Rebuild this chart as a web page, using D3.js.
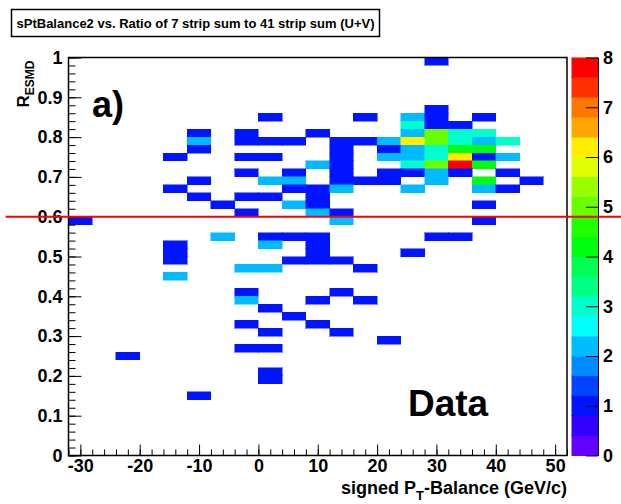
<!DOCTYPE html>
<html>
<head>
<meta charset="utf-8">
<script src="https://d3js.org/d3.v7.min.js"></script>
<style>
body { margin: 0; background: #fff; }
svg text { font-family: "Liberation Sans", Arial, Helvetica, sans-serif; font-weight: bold; }
</style>
</head>
<body>
<div id="chart"></div>
<script>
// Histogram rows: lower edge of the R bin, then lower edges of the filled
// pT-balance bins in that row and their counts
var rowY = [0.98, 0.86, 0.84, 0.82, 0.80, 0.78, 0.76, 0.74, 0.72, 0.70,
            0.68, 0.66, 0.64, 0.62, 0.60, 0.58, 0.54, 0.52, 0.50, 0.48,
            0.46, 0.44, 0.40, 0.38, 0.36, 0.34, 0.32, 0.30, 0.28, 0.26,
            0.24, 0.20, 0.18, 0.14];
var rowX = [
    [28],
    [28],
    [0, 16, 24, 28, 36],
    [24, 28, 32],
    [-12, -4, 8, 24, 28, 32, 36],
    [-12, -4, 0, 4, 12, 16, 20, 24, 28, 32, 36, 40],
    [-12, 12, 20, 24, 28, 32, 36],
    [-16, -4, 0, 12, 20, 24, 28, 32, 36, 40],
    [8, 12, 24, 28, 32, 36],
    [-4, 4, 12, 20, 24, 28, 32, 40],
    [-12, 0, 4, 12, 16, 20, 28, 36, 44],
    [-16, 4, 8, 12, 24, 36, 40],
    [-12, -4, 0, 8],
    [-8, 4, 8, 36],
    [-4, 8, 12],
    [-32, 12, 36],
    [-8, 0, 4, 8, 28, 32],
    [-16, 0, 8],
    [-16, 8, 24],
    [-16, 4, 8, 12],
    [-4, 0, 16],
    [-16],
    [-4, 12],
    [-4, 8, 16],
    [0],
    [4],
    [-4, 8],
    [0, 12],
    [20],
    [-4, 0],
    [-24],
    [0],
    [0],
    [-12]
];
var rowN = [
    [1],
    [1],
    [1, 1, 2, 1, 1],
    [3, 1, 1],
    [1, 1, 1, 2, 5, 3, 3],
    [2, 1, 1, 1, 1, 1, 2, 6, 5, 3, 2, 3],
    [1, 1, 1, 2, 3, 4, 4],
    [1, 1, 1, 1, 2, 2, 3, 6, 1, 2],
    [2, 1, 3, 5, 8, 4],
    [1, 1, 1, 1, 1, 2, 1, 1],
    [1, 2, 2, 1, 1, 1, 2, 4, 1],
    [1, 1, 1, 2, 2, 2, 1],
    [1, 1, 1, 1],
    [1, 2, 1, 1],
    [1, 2, 1],
    [1, 2, 1],
    [2, 1, 1, 1, 1, 1],
    [1, 2, 1],
    [1, 1, 1],
    [1, 1, 1, 1],
    [2, 2, 1],
    [2],
    [1, 1],
    [2, 1, 1],
    [1],
    [1],
    [1, 1],
    [1, 1],
    [1],
    [1, 1],
    [1],
    [1],
    [1],
    [1]
];

var binW = 4, binH = 0.02;
var xTicks = [-30, -20, -10, 0, 10, 20, 30, 40, 50];
var yTicks = [0, 0.1, 0.2, 0.3, 0.4, 0.5, 0.6, 0.7, 0.8, 0.9, 1];
var zTicks = [0, 1, 2, 3, 4, 5, 6, 7, 8];
var cutValue = 0.6;
var cutLineX = [-42.6, 61.5];

// frame in pixels
var frame = {left: 68.5, right: 567, top: 57.5, bottom: 455.5};

var x = d3.scaleLinear().domain([-32, 52]).range([frame.left, frame.right]);
var y = d3.scaleLinear().domain([0, 1]).range([frame.bottom, frame.top]);
var z = d3.scaleLinear().domain([0, 8]).range([frame.bottom, frame.top]);

// ROOT rainbow palette (50 colours), 20 contour levels
function levelColor(k) {
    var idx = Math.floor((k + 0.99) * 2.5);
    return d3.hsl(280 - (idx + 1) * 5.6, 1, 0.5).toString();
}
function cellColor(n) {
    var k = Math.floor(0.01 + n * 2.5);
    if (k > 19) k = 19;
    return levelColor(k);
}

var svg = d3.select("#chart").append("svg")
    .attr("width", 621)
    .attr("height", 504);

// flatten the rows into cells
var cells = [];
rowY.forEach(function(ry, i) {
    rowX[i].forEach(function(rx, j) {
        cells.push({x: rx, y: ry, n: rowN[i][j]});
    });
});

svg.append("g")
    .attr("shape-rendering", "crispEdges")
    .selectAll("rect")
    .data(cells)
    .enter().append("rect")
    .attr("x", function(d) { return x(d.x); })
    .attr("width", function(d) { return x(d.x + binW) - x(d.x); })
    .attr("y", function(d) { return y(d.y + binH); })
    .attr("height", function(d) { return y(d.y) - y(d.y + binH); })
    .attr("fill", function(d) { return cellColor(d.n); })
    .attr("stroke", function(d) { return cellColor(d.n); })
    .attr("stroke-width", 0.5);

// frame
svg.append("rect")
    .attr("x", frame.left)
    .attr("y", frame.top)
    .attr("width", frame.right - frame.left)
    .attr("height", frame.bottom - frame.top)
    .attr("fill", "none")
    .attr("stroke", "black")
    .attr("stroke-width", 1.5);

// X axis (minor + major ticks, pointing inwards)
svg.append("g")
    .attr("transform", "translate(0," + frame.bottom + ")")
    .call(d3.axisBottom(x).tickValues(d3.range(-32, 53, 2)).tickSize(-6).tickFormat(""))
    .call(function(g) { g.select(".domain").remove(); });
svg.append("g")
    .attr("transform", "translate(0," + frame.bottom + ")")
    .call(d3.axisBottom(x).tickValues(xTicks).tickSize(-11).tickPadding(4)
        .tickFormat(function(d) { return String(d); }))
    .call(function(g) { g.select(".domain").remove(); })
    .attr("font-size", 18);

// Y axis
svg.append("g")
    .attr("transform", "translate(" + frame.left + ",0)")
    .call(d3.axisLeft(y).tickValues(d3.range(0, 51).map(function(i) { return i * 0.02; }))
        .tickSize(-7).tickFormat(""))
    .call(function(g) { g.select(".domain").remove(); });
svg.append("g")
    .attr("transform", "translate(" + frame.left + ",0)")
    .call(d3.axisLeft(y).tickValues(yTicks).tickSize(-13).tickPadding(6)
        .tickFormat(function(d) { return String(d); }))
    .call(function(g) { g.select(".domain").remove(); })
    .attr("font-size", 18);

// colour palette
var barL = 571.5, barR = 598;
svg.append("g")
    .attr("shape-rendering", "crispEdges")
    .selectAll("rect")
    .data(d3.range(20))
    .enter().append("rect")
    .attr("x", barL)
    .attr("width", barR - barL)
    .attr("y", function(k) { return z((k + 1) * 0.4); })
    .attr("height", function(k) { return z(k * 0.4) - z((k + 1) * 0.4); })
    .attr("fill", function(k) { return levelColor(k); })
    .attr("stroke", function(k) { return levelColor(k); })
    .attr("stroke-width", 0.5);

svg.append("g")
    .attr("transform", "translate(" + barR + ",0)")
    .call(d3.axisRight(z).tickValues(zTicks).tickSizeInner(-12).tickSizeOuter(0).tickPadding(5)
        .tickFormat(function(d) { return String(d); }))
    .attr("font-size", 18);

// axis titles
var xt = svg.append("text")
    .attr("x", frame.right)
    .attr("y", 494)
    .attr("text-anchor", "end")
    .style("font-size", "18px");
xt.append("tspan").text("signed P");
xt.append("tspan").attr("dy", 6).style("font-size", "13px").text("T");
xt.append("tspan").attr("dy", -6).text("-Balance (GeV/c)");

var yt = svg.append("text")
    .attr("transform", "translate(29," + (frame.top + 3) + ") rotate(-90)")
    .attr("text-anchor", "end")
    .style("font-size", "17px");
yt.append("tspan").text("R");
yt.append("tspan").attr("dy", 5).style("font-size", "12px").text("ESMD");

// title box
svg.append("rect")
    .attr("x", 11.5)
    .attr("y", 9.5)
    .attr("width", 368)
    .attr("height", 27)
    .attr("fill", "white")
    .attr("stroke", "black")
    .attr("stroke-width", 1.5);
svg.append("text")
    .attr("x", 195.5)
    .attr("y", 28)
    .attr("text-anchor", "middle")
    .style("font-size", "13px")
    .text("sPtBalance2 vs. Ratio of 7 strip sum to 41 strip sum (U+V)");

// labels
svg.append("text")
    .attr("x", 92)
    .attr("y", 117)
    .style("font-size", "36px")
    .text("a)");
svg.append("text")
    .attr("x", 408)
    .attr("y", 416)
    .style("font-size", "37px")
    .text("Data");

// cut line
svg.append("line")
    .attr("x1", x(cutLineX[0]))
    .attr("x2", x(cutLineX[1]))
    .attr("y1", y(cutValue))
    .attr("y2", y(cutValue))
    .attr("stroke", "#ff0000")
    .attr("stroke-width", 2);
</script>
</body>
</html>
